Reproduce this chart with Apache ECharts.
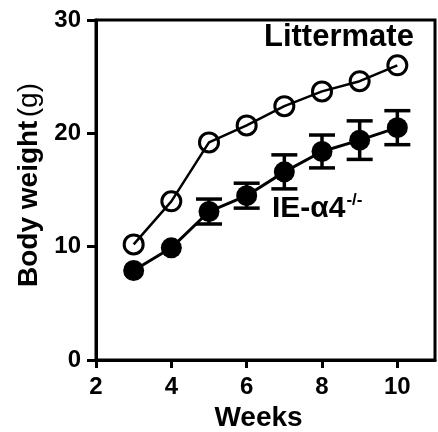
<!DOCTYPE html>
<html>
<head>
<meta charset="utf-8">
<script src="https://cdn.jsdelivr.net/npm/echarts@6/dist/echarts.min.js"></script>
<style>html,body{margin:0;padding:0;background:#fff}#c{width:438px;height:432px}</style>
</head>
<body>
<div id="c"></div>
<script>
var weeks = [3, 4, 5, 6, 7, 8, 9, 10];
var littermate = [10.2, 14.0, 19.2, 20.7, 22.4, 23.7, 24.6, 26.0];
var knockout = [7.9, 9.9, 13.1, 14.5, 16.6, 18.4, 19.4, 20.5];
var knockoutErr = [0, 0, 1.1, 1.1, 1.5, 1.45, 1.7, 1.5];
var xTicks = [2, 4, 6, 8, 10];
var yTicks = [0, 10, 20, 30];

var FONT = '"Liberation Sans", Arial, sans-serif';
var chart = echarts.init(document.getElementById('c'));

var errData = weeks.map(function (w, i) {
  return [w, knockout[i] - knockoutErr[i], knockout[i] + knockoutErr[i]];
}).filter(function (d, i) { return knockoutErr[i] > 0; });

chart.setOption({
  animation: false,
  grid: { left: 96, right: 3, top: 20, bottom: 72, show: true, borderColor: '#000', borderWidth: 3,
          containLabel: false, outerBoundsMode: 'none' },
  xAxis: {
    type: 'value', min: 2, max: 11, interval: 2,
    axisLine: { lineStyle: { color: '#000', width: 3 } },
    axisTick: { length: 8, lineStyle: { color: '#000', width: 3 } },
    splitLine: { show: false },
    axisLabel: {
      showMaxLabel: false, margin: 15, color: '#000', fontFamily: FONT, fontWeight: 'bold', fontSize: 24,
      formatter: function (v) { return xTicks.indexOf(v) >= 0 ? String(v) : ''; }
    },
    name: 'Weeks', nameLocation: 'middle', nameGap: 42,
    nameTextStyle: { color: '#000', fontFamily: FONT, fontWeight: 'bold', fontSize: 28, padding: [0, 14, 0, 0] }
  },
  yAxis: {
    type: 'value', min: 0, max: 30, interval: 10,
    axisLine: { lineStyle: { color: '#000', width: 3 } },
    axisTick: { length: 9, lineStyle: { color: '#000', width: 3 } },
    splitLine: { show: false },
    axisLabel: {
      margin: 15, color: '#000', fontFamily: FONT, fontWeight: 'bold', fontSize: 24,
      formatter: function (v) { return yTicks.indexOf(v) >= 0 ? String(v) : ''; }
    },
    name: '{b|Body weight} {n|(g)}', nameLocation: 'middle', nameGap: 52, nameRotate: 90,
    nameTextStyle: {
      padding: [0, 0, 0, 10],
      rich: {
        b: { color: '#000', fontFamily: FONT, fontWeight: 'bold', fontSize: 28 },
        n: { color: '#000', fontFamily: FONT, fontWeight: 'normal', fontSize: 28 }
      }
    }
  },
  series: [
    {
      type: 'custom', z: 3,
      data: errData,
      renderItem: function (params, api) {
        var x = api.value(0);
        var lo = api.coord([x, api.value(1)]);
        var hi = api.coord([x, api.value(2)]);
        var hw = 13;
        var st = { stroke: '#000', lineWidth: 3.5 };
        return {
          type: 'group',
          children: [
            { type: 'line', shape: { x1: lo[0], y1: lo[1], x2: hi[0], y2: hi[1] }, style: st },
            { type: 'line', shape: { x1: lo[0] - hw, y1: lo[1], x2: lo[0] + hw, y2: lo[1] }, style: st },
            { type: 'line', shape: { x1: hi[0] - hw, y1: hi[1], x2: hi[0] + hw, y2: hi[1] }, style: st }
          ]
        };
      }
    },
    {
      name: 'IE-α4-/-', type: 'line', z: 4,
      data: weeks.map(function (w, i) { return [w, knockout[i]]; }),
      symbol: 'circle', symbolSize: 21,
      lineStyle: { color: '#000', width: 3 },
      itemStyle: { color: '#000', borderWidth: 0 }
    },
    {
      name: 'Littermate', type: 'line', z: 4,
      data: weeks.map(function (w, i) { return [w, littermate[i]]; }),
      symbol: 'circle', symbolSize: 19,
      lineStyle: { color: '#000', width: 2.5 },
      itemStyle: { color: 'rgba(0,0,0,0)', borderColor: '#000', borderWidth: 3 }
    }
  ],
  graphic: [
    {
      type: 'text', left: 264, top: 22, z: 10,
      style: { text: 'Littermate', fill: '#000', font: 'bold 31px ' + FONT }
    },
    {
      type: 'text', left: 272, top: 192, z: 10,
      style: {
        text: '{m|IE-α4}{s|-/-}',
        rich: {
          m: { fill: '#000', fontFamily: FONT, fontWeight: 'bold', fontSize: 30 },
          s: { fill: '#000', fontFamily: FONT, fontWeight: 'bold', fontSize: 17, verticalAlign: 'top', padding: [0, 0, 16, 1] }
        }
      }
    }
  ]
});
</script>
</body>
</html>
